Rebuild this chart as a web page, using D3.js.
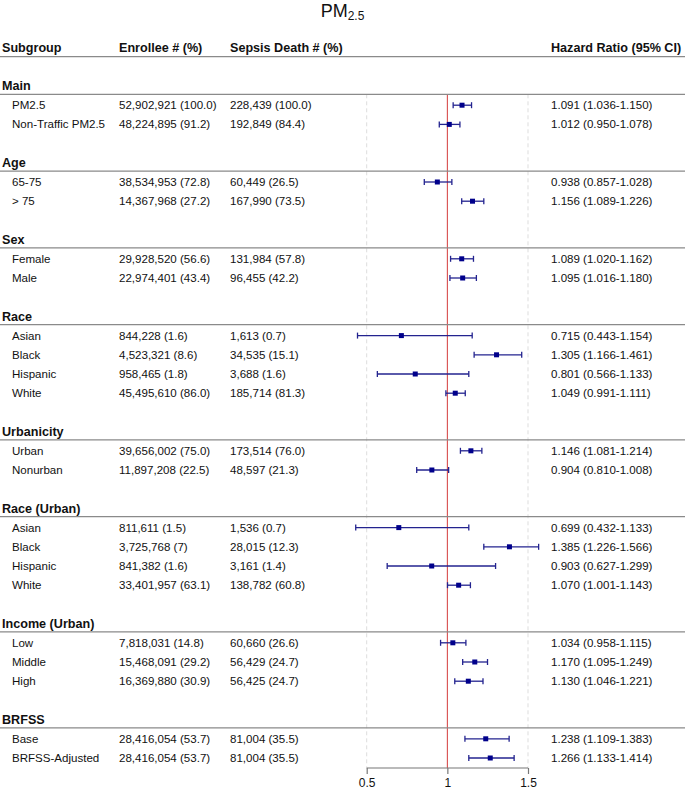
<!DOCTYPE html>
<html>
<head>
<meta charset="utf-8">
<script src="https://cdn.jsdelivr.net/npm/d3@7"></script>
<style>
  body { margin: 0; background: #fff; }
  svg text { font-family: "Liberation Sans", Arial, Helvetica, sans-serif; fill: #111; }
</style>
</head>
<body>
<svg id="chart" width="685" height="794"></svg>
<script>
// group headers and the rows under them
var groups = ["Main", "Age", "Sex", "Race", "Urbanicity", "Race (Urban)", "Income (Urban)", "BRFSS"];
var groupOf = [0, 0, 1, 1, 2, 2, 3, 3, 3, 3, 4, 4, 5, 5, 5, 5, 6, 6, 6, 7, 7];
var subgroups = ["PM2.5", "Non-Traffic PM2.5", "65-75", "> 75", "Female", "Male",
    "Asian", "Black", "Hispanic", "White", "Urban", "Nonurban",
    "Asian", "Black", "Hispanic", "White", "Low", "Middle", "High", "Base", "BRFSS-Adjusted"];
var enrollees = ["52,902,921 (100.0)", "48,224,895 (91.2)", "38,534,953 (72.8)", "14,367,968 (27.2)",
    "29,928,520 (56.6)", "22,974,401 (43.4)", "844,228 (1.6)", "4,523,321 (8.6)", "958,465 (1.8)",
    "45,495,610 (86.0)", "39,656,002 (75.0)", "11,897,208 (22.5)", "811,611 (1.5)", "3,725,768 (7)",
    "841,382 (1.6)", "33,401,957 (63.1)", "7,818,031 (14.8)", "15,468,091 (29.2)", "16,369,880 (30.9)",
    "28,416,054 (53.7)", "28,416,054 (53.7)"];
var deaths = ["228,439 (100.0)", "192,849 (84.4)", "60,449 (26.5)", "167,990 (73.5)",
    "131,984 (57.8)", "96,455 (42.2)", "1,613 (0.7)", "34,535 (15.1)", "3,688 (1.6)",
    "185,714 (81.3)", "173,514 (76.0)", "48,597 (21.3)", "1,536 (0.7)", "28,015 (12.3)",
    "3,161 (1.4)", "138,782 (60.8)", "60,660 (26.6)", "56,429 (24.7)", "56,425 (24.7)",
    "81,004 (35.5)", "81,004 (35.5)"];
var hr = [1.091, 1.012, 0.938, 1.156, 1.089, 1.095, 0.715, 1.305, 0.801, 1.049, 1.146, 0.904,
    0.699, 1.385, 0.903, 1.070, 1.034, 1.170, 1.130, 1.238, 1.266];
var lower = [1.036, 0.950, 0.857, 1.089, 1.020, 1.016, 0.443, 1.166, 0.566, 0.991, 1.081, 0.810,
    0.432, 1.226, 0.627, 1.001, 0.958, 1.095, 1.046, 1.109, 1.133];
var upper = [1.150, 1.078, 1.028, 1.226, 1.162, 1.180, 1.154, 1.461, 1.133, 1.111, 1.214, 1.008,
    1.133, 1.566, 1.299, 1.143, 1.115, 1.249, 1.221, 1.383, 1.414];
var ticks = [0.5, 1, 1.5];

var svg = d3.select("#chart");
var W = 685;
var f3 = d3.format(".3f");

// build the row list: header row, items, blank row between groups
var rows = [];
var idx = 0;
groups.forEach(function(g, gi) {
    if (gi > 0) idx++;
    rows.push({type: "header", label: g, i: idx++});
    groupOf.forEach(function(k, r) {
        if (k === gi) rows.push({type: "item", r: r, i: idx++});
    });
});

var y = d3.scaleLinear().domain([0, 1]).range([86, 86 + 19.2]);
var x = d3.scaleLinear().domain([0.5, 1.5]).range([366.7, 528]);
var axisY = 768;

// title
var title = svg.append("text")
    .attr("x", W / 2).attr("y", 17)
    .attr("text-anchor", "middle")
    .style("font-size", "18px");
title.append("tspan").text("PM");
title.append("tspan").attr("dy", 3).style("font-size", "12px").text("2.5");

// column headers
var cols = [{t: "Subgroup", x: 2}, {t: "Enrollee # (%)", x: 119}, {t: "Sepsis Death # (%)", x: 230},
    {t: "Hazard Ratio (95% CI)", x: 551}];
svg.selectAll("text.colhead").data(cols).enter().append("text")
    .attr("class", "colhead")
    .attr("x", function(d) { return d.x; })
    .attr("y", 47.7).attr("dy", "0.35em")
    .style("font-size", "12.6px").style("font-weight", "bold")
    .text(function(d) { return d.t; });
svg.append("line").attr("x1", 0).attr("x2", W).attr("y1", 56.7).attr("y2", 56.7)
    .attr("stroke", "#8a8a8a").attr("stroke-width", 1.2);

// reference and grid lines
var plotTop = y(0) + 8.3;
svg.selectAll("line.grid").data(ticks.filter(function(t) { return t !== 1; })).enter().append("line")
    .attr("class", "grid")
    .attr("x1", function(d) { return x(d); }).attr("x2", function(d) { return x(d); })
    .attr("y1", plotTop).attr("y2", axisY)
    .attr("stroke", "#dddddd").attr("stroke-width", 1).attr("stroke-dasharray", "4,3");
svg.append("line")
    .attr("x1", x(1)).attr("x2", x(1)).attr("y1", plotTop).attr("y2", axisY)
    .attr("stroke", "#d43a3a").attr("stroke-width", 1);

// group headers with their separator lines
var heads = rows.filter(function(d) { return d.type === "header"; });
svg.selectAll("text.ghead").data(heads).enter().append("text")
    .attr("class", "ghead")
    .attr("x", 2).attr("y", function(d) { return y(d.i); }).attr("dy", "0.35em")
    .style("font-size", "12.6px").style("font-weight", "bold")
    .text(function(d) { return d.label; });
svg.selectAll("line.sep").data(heads).enter().append("line")
    .attr("class", "sep")
    .attr("x1", 0).attr("x2", W)
    .attr("y1", function(d) { return y(d.i) + 8.3; }).attr("y2", function(d) { return y(d.i) + 8.3; })
    .attr("stroke", "#8a8a8a").attr("stroke-width", 1.2);

// item rows
var items = rows.filter(function(d) { return d.type === "item"; });
var item = svg.selectAll("g.item").data(items).enter().append("g")
    .attr("class", "item")
    .attr("transform", function(d) { return "translate(0," + y(d.i) + ")"; });

function col(xp, fn) {
    item.append("text").attr("x", xp).attr("dy", "0.35em")
        .style("font-size", "11.55px")
        .text(fn);
}
col(12, function(d) { return subgroups[d.r]; });
col(119, function(d) { return enrollees[d.r]; });
col(230, function(d) { return deaths[d.r]; });
col(551, function(d) { return f3(hr[d.r]) + " (" + f3(lower[d.r]) + "-" + f3(upper[d.r]) + ")"; });

var ciColor = "#23238f";
item.append("line")
    .attr("x1", function(d) { return x(lower[d.r]); }).attr("x2", function(d) { return x(upper[d.r]); })
    .attr("stroke", ciColor).attr("stroke-width", 1.3);
[lower, upper].forEach(function(arr) {
    item.append("line")
        .attr("x1", function(d) { return x(arr[d.r]); }).attr("x2", function(d) { return x(arr[d.r]); })
        .attr("y1", -3).attr("y2", 3)
        .attr("stroke", ciColor).attr("stroke-width", 1.3);
});
item.append("rect")
    .attr("x", function(d) { return x(hr[d.r]) - 2.5; }).attr("y", -2.5)
    .attr("width", 5).attr("height", 5)
    .attr("fill", "#00008b");

// x axis
var axis = d3.axisBottom(x).tickValues(ticks).tickSize(6).tickFormat(d3.format("~g"));
var ax = svg.append("g").attr("transform", "translate(0," + axisY + ")").call(axis);
ax.select(".domain").attr("stroke", "#777").attr("stroke-width", 1.2)
    .attr("d", "M" + x(0.5) + ",0H" + x(1.5));
ax.selectAll(".tick line").attr("stroke", "#777").attr("stroke-width", 1.2);
ax.selectAll(".tick text").attr("y", 15).attr("dy", "0.35em")
    .style("font-size", "12px").style("font-family", "'Liberation Sans', Arial, sans-serif")
    .attr("fill", "#111");
</script>
</body>
</html>
